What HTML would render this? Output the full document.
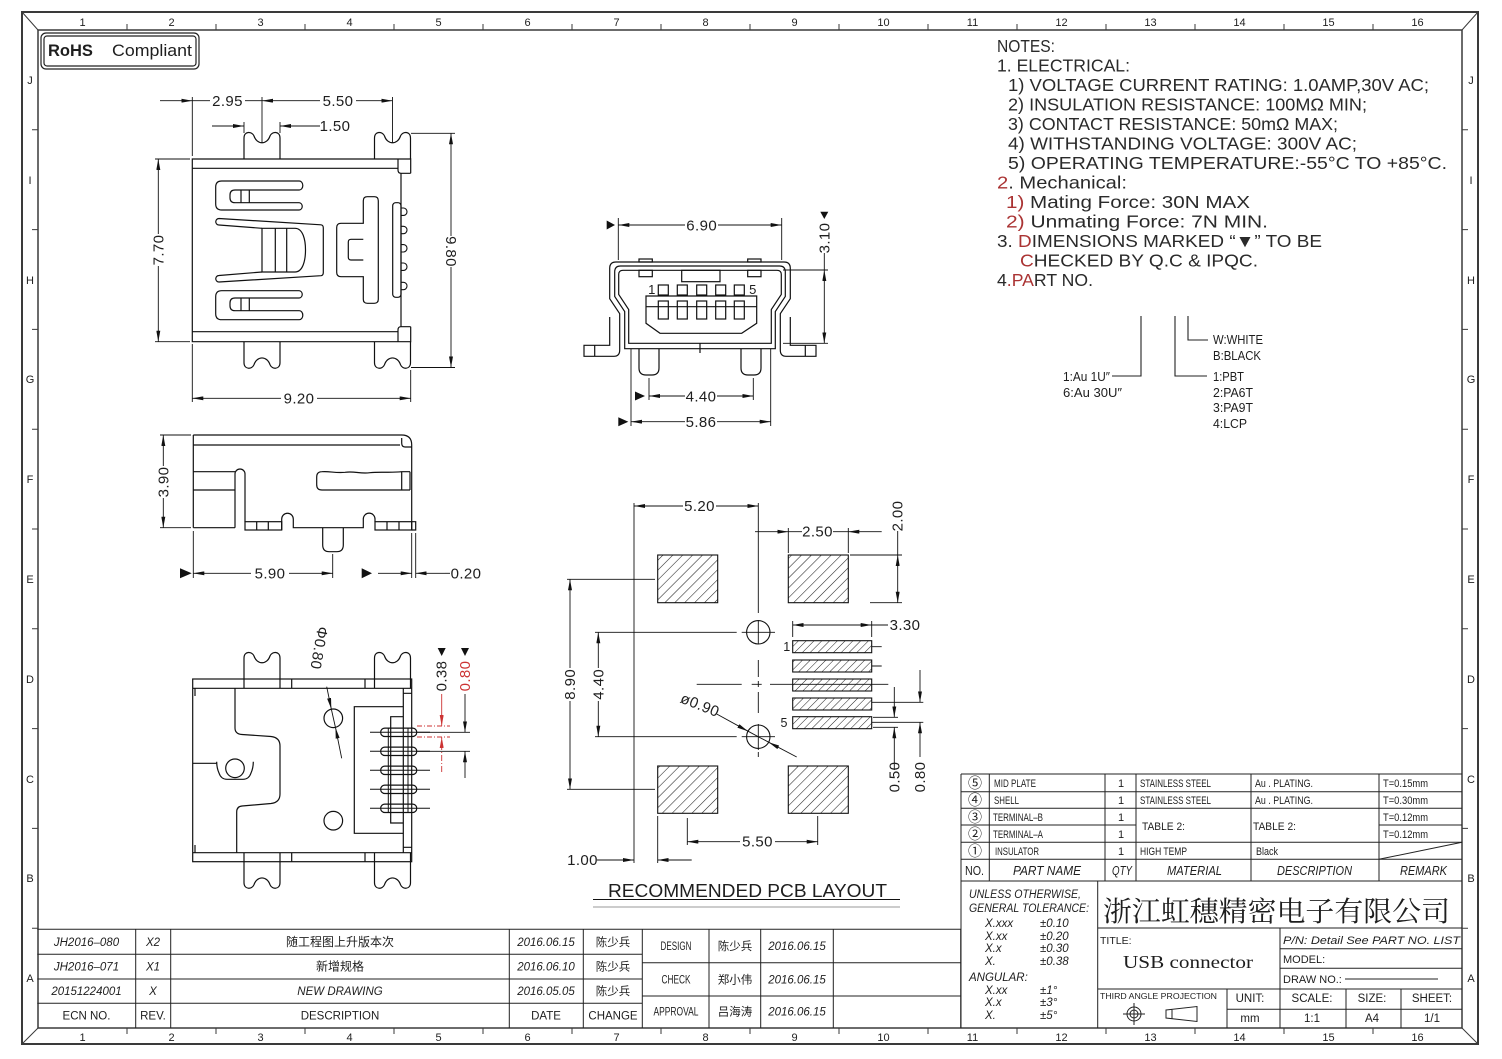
<!DOCTYPE html>
<html><head><meta charset="utf-8">
<style>
html,body{margin:0;padding:0;background:#fff;width:1502px;height:1059px;overflow:hidden}
svg{display:block}
text{font-family:"Liberation Sans","Noto Sans CJK SC",sans-serif;fill:#1e1e1e}
.d{font-size:15px;text-anchor:middle;letter-spacing:0.4px}
.n{font-size:17.5px}
.n text{fill:#2a2a2a}
.c{text-anchor:middle}
</style></head><body>
<svg width="1502" height="1059" viewBox="0 0 1502 1059" xmlns="http://www.w3.org/2000/svg">
<defs>
<marker id="a" viewBox="0 0 11 4" refX="11" refY="2" markerWidth="11" markerHeight="4" markerUnits="userSpaceOnUse" orient="auto"><path d="M0,0 L11,2 L0,4 Z" fill="#111"/></marker>
<marker id="ar" viewBox="0 0 11 4" refX="11" refY="2" markerWidth="11" markerHeight="4" markerUnits="userSpaceOnUse" orient="auto"><path d="M0,0 L11,2 L0,4 Z" fill="#c33"/></marker>
<pattern id="h" width="7" height="7" patternUnits="userSpaceOnUse" patternTransform="rotate(45)"><line x1="0" y1="0" x2="0" y2="7" stroke="#222" stroke-width="1.1"/></pattern>
<pattern id="hs" width="5.5" height="5.5" patternUnits="userSpaceOnUse" patternTransform="rotate(45)"><line x1="0" y1="0" x2="0" y2="5.5" stroke="#222" stroke-width="1"/></pattern>
<path id="tab" d="M0,0 V-21 C0,-28 8,-28 10,-23 C13,-14 23,-14 26,-23 C28,-28 36,-28 36,-21 V0" fill="none" stroke="#111" stroke-width="1.2"/>
</defs>

<!-- FRAME -->
<g fill="none" stroke="#3a3a3a">
<rect x="22" y="12" width="1456" height="1032" stroke-width="2"/>
<rect x="38" y="30" width="1424" height="998" stroke-width="1.5"/>
<path d="M22,12 L38,30 M1478,12 L1462,30 M22,1044 L38,1028 M1478,1044 L1462,1028" stroke-width="1"/>
<path stroke-width="1" d="M127,24V30M216,24V30M305,24V30M394,24V30M483,24V30M572,24V30M661,24V30M750,24V30M839,24V30M928,24V30M1017,24V30M1106,24V30M1195,24V30M1284,24V30M1373,24V30
M127,1028V1034M216,1028V1034M305,1028V1034M394,1028V1034M483,1028V1034M572,1028V1034M661,1028V1034M750,1028V1034M839,1028V1034M928,1028V1034M1017,1028V1034M1106,1028V1034M1195,1028V1034M1284,1028V1034M1373,1028V1034
M32,129.8H38M32,229.6H38M32,329.4H38M32,429.2H38M32,529H38M32,628.8H38M32,728.6H38M32,828.4H38M32,928.2H38
M1462,129.8H1468M1462,229.6H1468M1462,329.4H1468M1462,429.2H1468M1462,529H1468M1462,628.8H1468M1462,728.6H1468M1462,828.4H1468M1462,928.2H1468"/>
</g>
<g font-size="11" class="c" style="fill:#333">
<text x="82.5" y="26" class="c">1</text><text x="171.5" y="26" class="c">2</text><text x="260.5" y="26" class="c">3</text><text x="349.5" y="26" class="c">4</text><text x="438.5" y="26" class="c">5</text><text x="527.5" y="26" class="c">6</text><text x="616.5" y="26" class="c">7</text><text x="705.5" y="26" class="c">8</text><text x="794.5" y="26" class="c">9</text><text x="883.5" y="26" class="c">10</text><text x="972.5" y="26" class="c">11</text><text x="1061.5" y="26" class="c">12</text><text x="1150.5" y="26" class="c">13</text><text x="1239.5" y="26" class="c">14</text><text x="1328.5" y="26" class="c">15</text><text x="1417.5" y="26" class="c">16</text>
<text x="82.5" y="1041" class="c">1</text><text x="171.5" y="1041" class="c">2</text><text x="260.5" y="1041" class="c">3</text><text x="349.5" y="1041" class="c">4</text><text x="438.5" y="1041" class="c">5</text><text x="527.5" y="1041" class="c">6</text><text x="616.5" y="1041" class="c">7</text><text x="705.5" y="1041" class="c">8</text><text x="794.5" y="1041" class="c">9</text><text x="883.5" y="1041" class="c">10</text><text x="972.5" y="1041" class="c">11</text><text x="1061.5" y="1041" class="c">12</text><text x="1150.5" y="1041" class="c">13</text><text x="1239.5" y="1041" class="c">14</text><text x="1328.5" y="1041" class="c">15</text><text x="1417.5" y="1041" class="c">16</text>
<text x="30" y="84" class="c">J</text><text x="30" y="184" class="c">I</text><text x="30" y="284" class="c">H</text><text x="30" y="383" class="c">G</text><text x="30" y="483" class="c">F</text><text x="30" y="583" class="c">E</text><text x="30" y="683" class="c">D</text><text x="30" y="783" class="c">C</text><text x="30" y="882" class="c">B</text><text x="30" y="982" class="c">A</text>
<text x="1471" y="84" class="c">J</text><text x="1471" y="184" class="c">I</text><text x="1471" y="284" class="c">H</text><text x="1471" y="383" class="c">G</text><text x="1471" y="483" class="c">F</text><text x="1471" y="583" class="c">E</text><text x="1471" y="683" class="c">D</text><text x="1471" y="783" class="c">C</text><text x="1471" y="882" class="c">B</text><text x="1471" y="982" class="c">A</text>
</g>

<!-- RoHS -->
<rect x="41" y="33" width="158" height="36" rx="5" fill="none" stroke="#222" stroke-width="1.2"/>
<rect x="44" y="36" width="152" height="30" rx="3" fill="none" stroke="#222" stroke-width="1.2"/>
<text x="48" y="56" font-size="16.5" font-weight="bold">RoHS</text>
<text x="112" y="56" font-size="16.5" textLength="80" lengthAdjust="spacingAndGlyphs">Compliant</text>

<!-- VIEW 1 TOP -->
<g fill="none" stroke="#111" stroke-width="1.2">
<path d="M410.7,173.3 V159 H192.3 V341.7 H410.7 V326.7"/>
<path d="M192.3,168.3 H398 M192.3,331.7 H398"/>
<path d="M398,159 V170 Q398,173.3 401,173.3 H410.7 M398,341.7 V330 Q398,326.7 401,326.7 H410.7"/>
<path d="M401,173.3 V326.7"/>
<path id="slot" d="M299.3,181 H221.7 Q215.7,181 215.7,187 V204 Q215.7,210 221.7,210 H299.3 M299.3,181 A3.5,4.5 0 0 1 299.3,190 M299.3,202.7 A3.5,3.7 0 0 1 299.3,210 M299.3,190 H235 Q230,190 230,195 V197.7 Q230,202.7 235,202.7 H299.3 M241,190 V202.7 M249.3,190 V202.7"/>
<use href="#slot" transform="translate(0,500.7) scale(1,-1)"/>
<path d="M219,218.5 L321,224.8 Q323.3,225 323.3,228 V272.5 Q323.3,275.5 321,275.7 L219,282 M219,218.5 A3.2,3.2 0 0 0 219,225 M219,275.5 A3.2,3.2 0 0 0 219,282 M219,225 L262,228.3 M219,275.5 L262,272"/>
<path d="M262,228.3 H295 C303,228.3 305.5,240 305.5,250 C305.5,260 303,272 295,272 H262 Z M275.3,228.3 V272 M286.7,228.3 V272"/>
<path d="M367.3,196.7 H374.3 Q378.3,196.7 378.3,200.7 V299.3 Q378.3,303.3 374.3,303.3 H367.3 Q363.3,303.3 363.3,299.3 V276.7 H341 Q336.7,276.7 336.7,272.4 V227.6 Q336.7,223.3 341,223.3 H363.3 V200.7 Q363.3,196.7 367.3,196.7 Z"/>
<path d="M363.3,239.3 H351 Q348.3,239.3 348.3,242 V257.3 Q348.3,260 351,260 H363.3"/>
<rect x="392.7" y="202.7" width="8.3" height="94.6" rx="3"/>
<path stroke-width="1.1" d="M401,208 H403.5 A3.5,3.7 0 0 1 403.5,215.4 H401 M401,226.3 H403.5 A3.5,3.7 0 0 1 403.5,233.7 H401 M401,244.6 H403.5 A3.5,3.7 0 0 1 403.5,252 H401 M401,263 H403.5 A3.5,3.7 0 0 1 403.5,270.4 H401 M401,282.3 H403.5 A3.5,3.7 0 0 1 403.5,289.7 H401"/>
</g>
<use href="#tab" transform="translate(244,159)"/>
<use href="#tab" transform="translate(374.5,159)"/>
<use href="#tab" transform="translate(244,341.7) scale(1,-1)"/>
<use href="#tab" transform="translate(374.5,341.7) scale(1,-1)"/>
<g fill="none" stroke="#111" stroke-width="0.9">
<path d="M192.3,97 V156 M262,97 V143 M392.5,97 V143 M244,122 V133 M280,122 V133"/>
<path d="M160,100.7 H192.3" marker-end="url(#a)"/>
<path d="M192.3,100.7 H210 M245,100.7 H262"/>
<path d="M320,100.7 H262" marker-end="url(#a)"/>
<path d="M356,100.7 H392.5" marker-end="url(#a)"/>
<path d="M212,126 H244" marker-end="url(#a)"/>
<path d="M320,126 H280" marker-end="url(#a)"/>
<path d="M411,133.3 H455 M411,367.5 H455"/>
<path d="M451,236 V133.3" marker-end="url(#a)"/>
<path d="M451,267 V367.5" marker-end="url(#a)"/>
<path d="M155,159 H190 M155,341.7 H190"/>
<path d="M158.3,234 V159" marker-end="url(#a)"/>
<path d="M158.3,266 V341.7" marker-end="url(#a)"/>
<path d="M192.3,344 V402 M410.7,370 V402"/>
<path d="M281,398.3 H192.3" marker-end="url(#a)"/>
<path d="M317,398.3 H410.7" marker-end="url(#a)"/>
</g>
<text class="d" x="227.5" y="106">2.95</text>
<text class="d" x="338" y="106">5.50</text>
<text class="d" x="335" y="131">1.50</text>
<text class="d" transform="translate(451,251.5) rotate(90)" dy="5">9.80</text>
<text class="d" transform="translate(158.3,250) rotate(-90)" dy="5">7.70</text>
<text class="d" x="299" y="403.5">9.20</text>

<!-- VIEW 2 SIDE -->
<g fill="none" stroke="#111" stroke-width="1.2">
<path d="M193.3,435 H401.7 Q411.7,435 411.7,445 V530"/>
<path d="M193.3,435 V527.7 M193.3,445 H400"/>
<path d="M401.7,438 V443 Q401.7,447 405,447 H411.7"/>
<path d="M193.3,471.7 H235 M193.3,490 H235 M235,474 V527.7"/>
<path d="M235,474 A5,5 0 0 1 245,474 V521.7"/>
<rect x="245" y="521.7" width="36.7" height="8.3"/>
<path d="M256.7,521.7 V530 M268.3,521.7 V530"/>
<path d="M281.7,530 V519 A5.8,5.8 0 0 1 293.3,519 V527.7 H363.3 V519 A5.8,5.8 0 0 1 375,519 V521.7"/>
<path d="M193.3,527.7 H235"/>
<rect x="375" y="521.7" width="36.7" height="8.3"/>
<path d="M387,521.7 V530 M399,521.7 V530 M411.7,521.7 H415.7 V530 H411.7"/>
<path d="M322.7,527.7 V545 Q322.7,551.7 329.3,551.7 H336.7 Q343.3,551.7 343.3,545 V527.7"/>
<path d="M322,471.7 Q316.7,471.7 316.7,477 V484.7 Q316.7,490 322,490 H410 M322,471.7 C330,471 335,473.3 345,472.3 C355,471 360,474 370,472.7 C380,471.5 390,473 401.7,471.7 H410 M401.7,471.7 V490 M410,471.7 V490"/>
</g>
<g fill="none" stroke="#111" stroke-width="0.9">
<path d="M160,435 H191 M160,527.7 H191"/>
<path d="M163.3,466 V435" marker-end="url(#a)"/>
<path d="M163.3,498 V527.7" marker-end="url(#a)"/>
<path d="M193.3,531 V578 M332.7,554 V578"/>
<path d="M251,573.3 H193.3" marker-end="url(#a)"/>
<path d="M289,573.3 H332.7" marker-end="url(#a)"/>
<path d="M378,573.3 H411.7" marker-end="url(#a)"/>
<path d="M411.7,533 V578 M415.7,533 V578"/>
<path d="M445,573.3 H415.7" marker-end="url(#a)"/>
<path d="M445,573.3 H450"/>
</g>
<polygon points="180,568.3 191.7,573.3 180,578.3" fill="#111"/>
<polygon points="361.7,568.3 372,573.3 361.7,578.3" fill="#111"/>
<text class="d" transform="translate(163.3,482) rotate(-90)" dy="5">3.90</text>
<text class="d" x="270" y="578.5">5.90</text>
<text class="d" x="466" y="578.5">0.20</text>

<!-- VIEW 3 BOTTOM -->
<g fill="none" stroke="#111" stroke-width="1.2">
<rect x="192.7" y="679" width="219" height="182.7"/>
<path d="M192.7,688.3 H411.7 M192.7,852.7 H411.7"/>
<path d="M235,688.3 V728 Q235,734 242,734.5 L271,736.5 Q280,737.5 280,746 V794 Q280,802.5 271,803.5 L242,806 Q236.7,806.5 236.7,812 V852.7"/>
<path d="M192.7,763.3 H216.7 M195,688.3 V696 M195,845 V852.7"/>
<circle cx="235" cy="768.3" r="9.3"/>
<path d="M216.7,761.7 Q216.7,768 219,773 Q221,779.3 227,779.3 H243 Q249,779.3 251,773 Q253.3,768 253.3,761.7"/>
<circle cx="333.3" cy="718.3" r="9.3"/>
<circle cx="333.3" cy="820.7" r="9.3"/>
<path d="M403.3,706.7 H354.3 V833.3 H403.3 M403.3,688.3 V852.7 M403.3,693.3 H411.7 M403.3,847.3 H411.7"/>
<path d="M403.3,716.7 H390.7 V823 H403.3"/>
<path d="M244,679 V688.3 M280,679 V688.3 M374.5,679 V688.3 M410.5,679 V688.3 M244,852.7 V861.7 M280,852.7 V861.7 M374.5,852.7 V861.7 M410.5,852.7 V861.7 M291.7,679 V688.3 M365,679 V688.3 M291.7,852.7 V861.7 M365,852.7 V861.7"/>
<rect x="380.7" y="728.1" width="36" height="8.4" rx="4"/>
<rect x="380.7" y="747.1" width="36" height="8.4" rx="4"/>
<rect x="380.7" y="766.1" width="36" height="8.4" rx="4"/>
<rect x="380.7" y="785.1" width="36" height="8.4" rx="4"/>
<rect x="380.7" y="804.1" width="36" height="8.4" rx="4"/>
<path stroke-width="1" d="M370,732.3 H430 M370,751.3 H430 M370,770.3 H430 M370,789.3 H430 M370,808.3 H430 M388.3,728 V812.5 M408,728 V812.5"/>
</g>
<use href="#tab" transform="translate(244,679)"/>
<use href="#tab" transform="translate(374.5,679)"/>
<use href="#tab" transform="translate(244,861.7) scale(1,-1)"/>
<use href="#tab" transform="translate(374.5,861.7) scale(1,-1)"/>
<g fill="none" stroke="#111" stroke-width="0.9">
<path d="M326.7,686.7 L331.3,709" marker-end="url(#a)"/>
<path d="M341.7,758.3 L335.5,727.6" marker-end="url(#a)"/>
<path d="M331.3,709 L335.5,727.6"/>
<path d="M417,732.3 H470 M417,751.3 H470"/>
<path d="M465,694 V732.3" marker-end="url(#a)"/>
<path d="M465,778 V751.3" marker-end="url(#a)"/>
</g>
<g fill="none" stroke="#c33" stroke-width="0.9">
<path d="M417,726 H450 M417,737 H450" stroke-dasharray="5,2,1,2"/>
<path d="M441.7,694 V726" marker-end="url(#ar)"/>
<path d="M441.7,772 V737" marker-end="url(#ar)" stroke-dasharray="6,2,1,2"/>
</g>
<polygon points="437.7,648 445.7,648 441.7,656" fill="#111"/>
<polygon points="461,648 469,648 465,656" fill="#111"/>
<text class="d" transform="translate(441.7,676) rotate(-90)" dy="5">0.38</text>
<text class="d" transform="translate(465,676) rotate(-90)" dy="5" style="fill:#c33">0.80</text>
<text class="d" transform="translate(319,648) rotate(100)" dy="5" font-size="14">Φ0.80</text>

<!-- VIEW 4 FRONT -->
<g id="halfL" fill="none" stroke="#111" stroke-width="1.2">
<path d="M700,262 H616 Q609.7,262 609.7,268.3 V298.7 L619.7,313.7 V350 Q619.7,356.3 614,356.3 H584 V345.3 H609.7 V317"/>
<path d="M700,266 H620.5 Q614.7,266 614.7,272 V296.5 L624.7,311.5 V348.7 H700"/>
<path d="M700,270.3 H623 Q618.7,270.3 618.7,274.5 V294.5 L628.7,309.5 V343.3 H700"/>
<path d="M594.7,345.3 V356.3"/>
<rect x="639" y="259" width="13.3" height="3"/>
<rect x="639" y="270.3" width="13.3" height="6.4"/>
<path d="M639,348.7 V368 Q639,375 646,375 H652 Q659,375 659,368 V348.7"/>
</g>
<use href="#halfL" transform="translate(1400,0) scale(-1,1)"/>
<g fill="none" stroke="#111" stroke-width="1.2">
<rect x="681.7" y="270.3" width="38.3" height="11.4"/>
<rect x="658.3" y="285" width="10" height="10"/><rect x="677.3" y="285" width="10" height="10"/><rect x="696.7" y="285" width="10" height="10"/><rect x="715.7" y="285" width="10" height="10"/><rect x="734.3" y="285" width="10" height="10"/>
<path d="M646,296 H756.7 V323.3 L741.7,333.3 H660 L646,323.3 Z M646,306.7 H756.7"/>
<rect x="658.3" y="301" width="10" height="18"/><rect x="677.3" y="301" width="10" height="18"/><rect x="696.7" y="301" width="10" height="18"/><rect x="715.7" y="301" width="10" height="18"/><rect x="734.3" y="301" width="10" height="18"/>
<path d="M700,343.3 V353"/>
</g>
<text x="651.7" y="294" font-size="13" class="c">1</text>
<text x="752.7" y="294" font-size="13" class="c">5</text>
<g fill="none" stroke="#111" stroke-width="0.9">
<path d="M618.3,218 V260 M781.7,218 V260"/>
<path d="M685,225 H618.3" marker-end="url(#a)"/>
<path d="M718,225 H781.7" marker-end="url(#a)"/>
<path d="M783,270 H828 M783,343.3 H828 M824.3,253 V270"/>
<path d="M824.3,306 V270" marker-end="url(#a)"/>
<path d="M824.3,306 V343.3" marker-end="url(#a)"/>
<path d="M649,378 V400 M753.3,378 V400"/>
<path d="M685,396 H649" marker-end="url(#a)"/>
<path d="M717,396 H753.3" marker-end="url(#a)"/>
<path d="M631,349 V426 M770.7,349 V426"/>
<path d="M685,421.7 H631" marker-end="url(#a)"/>
<path d="M717,421.7 H770.7" marker-end="url(#a)"/>
</g>
<polygon points="606.7,220.5 615,225 606.7,229.5" fill="#111"/>
<polygon points="820.3,211.7 828.3,211.7 824.3,219" fill="#111"/>
<polygon points="635,391.5 645,396 635,400.5" fill="#111"/>
<polygon points="618.3,417.2 628.3,421.7 618.3,426.2" fill="#111"/>
<text class="d" x="701.7" y="230.5">6.90</text>
<text class="d" transform="translate(824.3,238) rotate(-90)" dy="5">3.10</text>
<text class="d" x="701" y="401.5">4.40</text>
<text class="d" x="701" y="427">5.86</text>

<!-- PCB LAYOUT -->
<g stroke="#111" stroke-width="1.1">
<rect x="657.7" y="555" width="60" height="47.7" fill="url(#h)"/>
<rect x="788.3" y="555" width="60" height="47.7" fill="url(#h)"/>
<rect x="657.7" y="766" width="60" height="47.3" fill="url(#h)"/>
<rect x="788.3" y="766" width="60" height="47.3" fill="url(#h)"/>
<rect x="792.7" y="640.7" width="79" height="12" fill="url(#hs)"/>
<rect x="792.7" y="660" width="79" height="12" fill="url(#hs)"/>
<rect x="792.7" y="679" width="79" height="12" fill="url(#hs)"/>
<rect x="792.7" y="698" width="79" height="12" fill="url(#hs)"/>
<rect x="792.7" y="716.7" width="79" height="12" fill="url(#hs)"/>
</g>
<g fill="none" stroke="#111" stroke-width="0.9">
<circle cx="758.3" cy="632.3" r="11.7" stroke-width="1.1"/>
<circle cx="758.3" cy="736.7" r="11.7" stroke-width="1.1"/>
<path d="M758.3,503 V613 M758.3,621 V644 M758.3,660 V677 M758.3,681 V687 M758.3,692 V713 M758.3,724 V750 M758.3,752 V757"/>
<path d="M696.7,684.3 H741.7 M751.7,684.3 H761.7 M770,684.3 H888.3"/>
<path d="M595,632.3 H736.7 M741.7,632.3 H775 M595,736.7 H736.7 M741.7,736.7 H775"/>
<path d="M871.7,646.7 H881.7 M871.7,666 H881.7 M871.7,702.3 H923.3 M871.7,722.3 H923.3 M873,717.3 H898 M873,727.3 H898"/>
<path d="M894.3,687 V717.3" marker-end="url(#a)"/>
<path d="M894.3,770 V727.3" marker-end="url(#a)"/>
<path d="M920,670 V702.3" marker-end="url(#a)"/>
<path d="M920,757 V722.3" marker-end="url(#a)"/>
<path d="M850,555 H902 M870,602.7 H902 M897.7,531 V555"/>
<path d="M897.7,579 V555" marker-end="url(#a)"/>
<path d="M897.7,579 V602.7" marker-end="url(#a)"/>
<path d="M792.7,621 V637 M871.7,621 V637 M871.7,625 H888"/>
<path d="M832,625 H792.7" marker-end="url(#a)"/>
<path d="M832,625 H871.7" marker-end="url(#a)"/>
<path d="M634,503 V863"/>
<path d="M683,506 H634" marker-end="url(#a)"/>
<path d="M716,506 H758.3" marker-end="url(#a)"/>
<path d="M788.3,528 V553 M848.3,528 V553 M788.3,531.7 H802 M833,531.7 H848.3"/>
<path d="M755,531.7 H788.3" marker-end="url(#a)"/>
<path d="M881.7,531.7 H848.3" marker-end="url(#a)"/>
<path d="M567,579.3 H655 M567,789.3 H655"/>
<path d="M570,668 V579.3" marker-end="url(#a)"/>
<path d="M570,701 V789.3" marker-end="url(#a)"/>
<path d="M598.3,668 V632.3" marker-end="url(#a)"/>
<path d="M598.3,701 V736.7" marker-end="url(#a)"/>
<path d="M716.7,714 L748,731.2" marker-end="url(#a)"/>
<path d="M796.7,757 L768.6,742.2" marker-end="url(#a)"/>
<path d="M748,731.2 L768.6,742.2"/>
<path d="M687.3,818 V845 M817.7,816 V845"/>
<path d="M740,841.7 H687.3" marker-end="url(#a)"/>
<path d="M775,841.7 H817.7" marker-end="url(#a)"/>
<path d="M597,860 H634" marker-end="url(#a)"/>
<path d="M691.7,860 H657.7" marker-end="url(#a)"/>
<path d="M657.7,816 V863"/>
<path d="M593,899.5 H900"/>
<path d="M593,907 H900" stroke="#999"/>
</g>
<text x="786.7" y="651" font-size="12.5" class="c">1</text>
<text x="784" y="727" font-size="12.5" class="c">5</text>
<text class="d" x="699.5" y="511">5.20</text>
<text class="d" x="817.5" y="536.7">2.50</text>
<text class="d" transform="translate(897.7,516) rotate(-90)" dy="5">2.00</text>
<text class="d" x="905" y="630">3.30</text>
<text class="d" transform="translate(570,684.3) rotate(-90)" dy="5">8.90</text>
<text class="d" transform="translate(598.3,684.3) rotate(-90)" dy="5">4.40</text>
<text class="d" transform="translate(700,705) rotate(22)" dy="5">ø0.90</text>
<text class="d" transform="translate(894.3,777) rotate(-90)" dy="5">0.50</text>
<text class="d" transform="translate(920,777) rotate(-90)" dy="5">0.80</text>
<text class="d" x="757.5" y="846.7">5.50</text>
<text class="d" x="582.5" y="865">1.00</text>
<text x="608" y="897" font-size="18.5" textLength="279" lengthAdjust="spacingAndGlyphs">RECOMMENDED PCB LAYOUT</text>

<!-- NOTES -->
<g class="n">
<text x="997" y="52" textLength="58" lengthAdjust="spacingAndGlyphs">NOTES:</text>
<text x="997" y="71.5" textLength="133" lengthAdjust="spacingAndGlyphs">1. ELECTRICAL:</text>
<text x="1008" y="91" textLength="421" lengthAdjust="spacingAndGlyphs">1) VOLTAGE CURRENT RATING: 1.0AMP,30V AC;</text>
<text x="1008" y="110.5" textLength="359" lengthAdjust="spacingAndGlyphs">2) INSULATION RESISTANCE: 100MΩ MIN;</text>
<text x="1008" y="130" textLength="330" lengthAdjust="spacingAndGlyphs">3) CONTACT RESISTANCE: 50mΩ MAX;</text>
<text x="1008" y="149.5" textLength="349" lengthAdjust="spacingAndGlyphs">4) WITHSTANDING VOLTAGE: 300V AC;</text>
<text x="1008" y="169" textLength="439" lengthAdjust="spacingAndGlyphs">5) OPERATING TEMPERATURE:-55°C TO +85°C.</text>
<text x="997" y="188.5" textLength="130" lengthAdjust="spacingAndGlyphs"><tspan style="fill:#a33">2</tspan>. Mechanical:</text>
<text x="1006" y="208" textLength="244" lengthAdjust="spacingAndGlyphs"><tspan style="fill:#a33">1)</tspan> Mating Force: 30N MAX</text>
<text x="1006" y="227.5" textLength="262" lengthAdjust="spacingAndGlyphs"><tspan style="fill:#a33">2)</tspan> Unmating Force: 7N MIN.</text>
<text x="997" y="247" textLength="325" lengthAdjust="spacingAndGlyphs">3. <tspan style="fill:#a33">D</tspan>IMENSIONS MARKED “▼” TO BE</text>
<text x="1020" y="266.5" textLength="238" lengthAdjust="spacingAndGlyphs"><tspan style="fill:#a33">C</tspan>HECKED BY Q.C &amp; IPQC.</text>
<text x="997" y="286" textLength="96" lengthAdjust="spacingAndGlyphs">4<tspan style="fill:#a33">.PA</tspan>RT NO.</text>
</g>
<g stroke="#222" fill="none" stroke-width="1.1">
<path d="M1141,316 V376 H1112 M1175,316 V376 H1207 M1188,316 V340 H1208"/>
</g>
<g font-size="12.5">
<text x="1063" y="381" textLength="47" lengthAdjust="spacingAndGlyphs">1:Au 1U″</text>
<text x="1063" y="397" textLength="59" lengthAdjust="spacingAndGlyphs">6:Au 30U″</text>
<text x="1213" y="344" textLength="50" lengthAdjust="spacingAndGlyphs">W:WHITE</text>
<text x="1213" y="360" textLength="48" lengthAdjust="spacingAndGlyphs">B:BLACK</text>
<text x="1213" y="381" textLength="31" lengthAdjust="spacingAndGlyphs">1:PBT</text>
<text x="1213" y="397" textLength="40" lengthAdjust="spacingAndGlyphs">2:PA6T</text>
<text x="1213" y="412" textLength="40" lengthAdjust="spacingAndGlyphs">3:PA9T</text>
<text x="1213" y="428" textLength="34" lengthAdjust="spacingAndGlyphs">4:LCP</text>
</g>

<!-- BOM TABLE + TITLE BLOCK -->
<g stroke="#222" stroke-width="1" fill="none">
<path d="M961,774 H1462 M961,791.7 H1462 M961,808.3 H1462 M961,825 H1136 M1379,825 H1462 M961,842.3 H1462 M961,859.3 H1462 M961,881 H1462"/>
<path d="M961,774 V1028 M989.3,774 V881 M1105,774 V881 M1136,774 V881 M1251,774 V881 M1379,774 V881"/>
<path d="M1379,859.3 L1462,842.3"/>
<path d="M1097.7,881 V1028 M1097.7,928 H1462 M1280,928 V989 M1280,948.7 H1462 M1280,968.3 H1462 M1097.7,989 H1462 M1227,989 V1028 M1280,989 V1028 M1346,989 V1028 M1401,989 V1028 M1227,1009.3 H1462 M1345,979 H1438"/>
<circle cx="1134" cy="1014" r="7"/>
<circle cx="1134" cy="1014" r="4"/>
<path d="M1123,1014 H1145 M1134,1003 V1025"/>
<path d="M1166,1010 L1197,1006.5 V1021.5 L1166,1018 Z M1172,1009.3 V1018.7"/>
</g>
<g font-size="11">
<text x="975" y="788" class="c" font-size="14">⑤</text>
<text x="975" y="805" class="c" font-size="14">④</text>
<text x="975" y="822" class="c" font-size="14">③</text>
<text x="975" y="839" class="c" font-size="14">②</text>
<text x="975" y="856" class="c" font-size="14">①</text>
<text x="994" y="787" textLength="42" lengthAdjust="spacingAndGlyphs">MID PLATE</text>
<text x="994" y="804" textLength="25" lengthAdjust="spacingAndGlyphs">SHELL</text>
<text x="993" y="821" textLength="50" lengthAdjust="spacingAndGlyphs">TERMINAL–B</text>
<text x="993" y="838" textLength="50" lengthAdjust="spacingAndGlyphs">TERMINAL–A</text>
<text x="995" y="855" textLength="44" lengthAdjust="spacingAndGlyphs">INSULATOR</text>
<text x="1121" y="787" class="c">1</text><text x="1121" y="804" class="c">1</text><text x="1121" y="821" class="c">1</text><text x="1121" y="838" class="c">1</text><text x="1121" y="855" class="c">1</text>
<text x="1140" y="787" textLength="71" lengthAdjust="spacingAndGlyphs">STAINLESS STEEL</text>
<text x="1140" y="804" textLength="71" lengthAdjust="spacingAndGlyphs">STAINLESS STEEL</text>
<text x="1142" y="830" textLength="43" lengthAdjust="spacingAndGlyphs">TABLE 2:</text>
<text x="1140" y="855" textLength="47" lengthAdjust="spacingAndGlyphs">HIGH TEMP</text>
<text x="1255" y="787" textLength="58" lengthAdjust="spacingAndGlyphs">Au . PLATING.</text>
<text x="1255" y="804" textLength="58" lengthAdjust="spacingAndGlyphs">Au . PLATING.</text>
<text x="1253" y="830" textLength="43" lengthAdjust="spacingAndGlyphs">TABLE 2:</text>
<text x="1256" y="855" textLength="22" lengthAdjust="spacingAndGlyphs">Black</text>
<text x="1383" y="787" textLength="45" lengthAdjust="spacingAndGlyphs">T=0.15mm</text>
<text x="1383" y="804" textLength="45" lengthAdjust="spacingAndGlyphs">T=0.30mm</text>
<text x="1383" y="821" textLength="45" lengthAdjust="spacingAndGlyphs">T=0.12mm</text>
<text x="1383" y="838" textLength="45" lengthAdjust="spacingAndGlyphs">T=0.12mm</text>
</g>
<g font-size="12.5">
<text x="965" y="875" textLength="19" lengthAdjust="spacingAndGlyphs">NO.</text>
<text x="1013" y="875" textLength="68" lengthAdjust="spacingAndGlyphs" font-style="italic">PART NAME</text>
<text x="1112" y="875" textLength="20" lengthAdjust="spacingAndGlyphs" font-style="italic">QTY</text>
<text x="1167" y="875" textLength="55" lengthAdjust="spacingAndGlyphs" font-style="italic">MATERIAL</text>
<text x="1277" y="875" textLength="75" lengthAdjust="spacingAndGlyphs" font-style="italic">DESCRIPTION</text>
<text x="1400" y="875" textLength="47" lengthAdjust="spacingAndGlyphs" font-style="italic">REMARK</text>
</g>
<g font-size="11.5" font-style="italic">
<text x="969" y="898" textLength="112" lengthAdjust="spacingAndGlyphs">UNLESS OTHERWISE,</text>
<text x="969" y="912" textLength="120" lengthAdjust="spacingAndGlyphs">GENERAL TOLERANCE:</text>
<text x="985" y="927">X.xxx</text><text x="1040" y="927">±0.10</text>
<text x="985" y="940">X.xx</text><text x="1040" y="940">±0.20</text>
<text x="985" y="952">X.x</text><text x="1040" y="952">±0.30</text>
<text x="985" y="965">X.</text><text x="1040" y="965">±0.38</text>
<text x="969" y="981">ANGULAR:</text>
<text x="985" y="994">X.xx</text><text x="1040" y="994">±1°</text>
<text x="985" y="1006">X.x</text><text x="1040" y="1006">±3°</text>
<text x="985" y="1019">X.</text><text x="1040" y="1019">±5°</text>
</g>
<text x="1103" y="921" font-size="28" textLength="347" lengthAdjust="spacingAndGlyphs" style="font-family:'Noto Serif CJK SC','Noto Sans CJK SC',serif">浙江虹穗精密电子有限公司</text>
<text x="1100" y="944" font-size="10.5">TITLE:</text>
<text x="1123" y="968" font-size="18" textLength="130" lengthAdjust="spacingAndGlyphs" style="font-family:'Liberation Serif',serif">USB connector</text>
<text x="1283" y="944" font-size="11" font-style="italic" textLength="177" lengthAdjust="spacingAndGlyphs">P/N: Detail See PART NO. LIST</text>
<text x="1283" y="963" font-size="11">MODEL:</text>
<text x="1283" y="983" font-size="11">DRAW NO.:</text>
<text x="1100" y="999" font-size="8.5" textLength="117" lengthAdjust="spacingAndGlyphs">THIRD ANGLE PROJECTION</text>
<g font-size="11.5">
<text x="1250" y="1002" class="c">UNIT:</text><text x="1250" y="1022" class="c">mm</text>
<text x="1312" y="1002" class="c">SCALE:</text><text x="1312" y="1022" class="c">1:1</text>
<text x="1372" y="1002" class="c">SIZE:</text><text x="1372" y="1022" class="c">A4</text>
<text x="1432" y="1002" class="c">SHEET:</text><text x="1432" y="1022" class="c">1/1</text>
</g>

<!-- REVISION TABLE -->
<g stroke="#222" stroke-width="1" fill="none">
<path d="M37.3,929.3 H960.7 M37.3,954.3 H642.3 M37.3,979 H642.3 M37.3,1003.3 H642.3 M642.3,962.7 H960.7 M642.3,996 H960.7"/>
<path d="M135.7,929.3 V1028 M170.7,929.3 V1028 M509.3,929.3 V1028 M583.3,929.3 V1028 M642.3,929.3 V1028 M709,929.3 V1028 M760.7,929.3 V1028 M833.3,929.3 V1028 M960.7,929.3 V1028"/>
</g>
<g font-size="11.5" class="c">
<text x="86.5" y="946" class="c" font-style="italic">JH2016–080</text>
<text x="153" y="946" class="c" font-style="italic">X2</text>
<text x="340" y="946" class="c" font-size="12">随工程图上升版本次</text>
<text x="546" y="946" class="c" font-style="italic">2016.06.15</text>
<text x="613" y="946" class="c">陈少兵</text>
<text x="86.5" y="970.7" class="c" font-style="italic">JH2016–071</text>
<text x="153" y="970.7" class="c" font-style="italic">X1</text>
<text x="340" y="970.7" class="c" font-size="12">新增规格</text>
<text x="546" y="970.7" class="c" font-style="italic">2016.06.10</text>
<text x="613" y="970.7" class="c">陈少兵</text>
<text x="86.5" y="995.2" class="c" font-style="italic">20151224001</text>
<text x="153" y="995.2" class="c" font-style="italic">X</text>
<text x="340" y="995.2" class="c" font-style="italic">NEW DRAWING</text>
<text x="546" y="995.2" class="c" font-style="italic">2016.05.05</text>
<text x="613" y="995.2" class="c">陈少兵</text>
<text x="86.5" y="1019.3" class="c">ECN NO.</text>
<text x="153" y="1019.3" class="c">REV.</text>
<text x="340" y="1019.3" class="c">DESCRIPTION</text>
<text x="546" y="1019.3" class="c">DATE</text>
<text x="613" y="1019.3" class="c">CHANGE</text>
<text x="676" y="950" class="c" textLength="31" lengthAdjust="spacingAndGlyphs">DESIGN</text>
<text x="735" y="950" class="c">陈少兵</text>
<text x="797" y="950" class="c" font-style="italic">2016.06.15</text>
<text x="676" y="983.3" class="c" textLength="29" lengthAdjust="spacingAndGlyphs">CHECK</text>
<text x="735" y="983.3" class="c">郑小伟</text>
<text x="797" y="983.3" class="c" font-style="italic">2016.06.15</text>
<text x="676" y="1015.7" class="c" textLength="45" lengthAdjust="spacingAndGlyphs">APPROVAL</text>
<text x="735" y="1015.7" class="c">吕海涛</text>
<text x="797" y="1015.7" class="c" font-style="italic">2016.06.15</text>
</g>
</svg>
</body></html>
